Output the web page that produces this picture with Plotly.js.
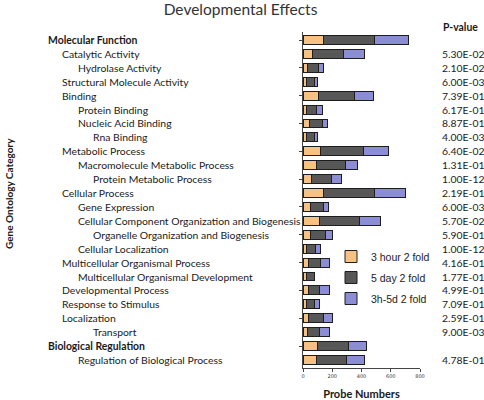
<!DOCTYPE html>
<html>
<head>
<meta charset="utf-8">
<script src="https://cdn.plot.ly/plotly-3.0.1.min.js"></script>
<style>html,body{margin:0;padding:0;background:#fff;}#chart{width:484px;height:400px;}</style>
</head>
<body>
<div id="chart"></div>
<script>
const categories = [
  "Molecular Function","Catalytic Activity","Hydrolase Activity","Structural Molecule Activity",
  "Binding","Protein Binding","Nucleic Acid Binding","Rna Binding","Metabolic Process",
  "Macromolecule Metabolic Process","Protein Metabolic Process","Cellular Process","Gene Expression",
  "Cellular Component Organization and Biogenesis","Organelle Organization and Biogenesis",
  "Cellular Localization","Multicellular Organismal Process","Multicellular Organismal Development",
  "Developmental Process","Response to Stimulus","Localization","Transport","Biological Regulation",
  "Regulation of Biological Process"
];
const levels = [0,1,2,1,1,2,2,3,1,2,3,1,2,2,3,2,1,2,1,1,1,3,0,2];
const hour3 = [137,66,29,23,103,27,41,27,120,89,59,139,50,111,50,23,38,23,36,25,36,32,100,93];
const day5  = [353,210,78,57,246,62,93,53,295,200,139,349,93,274,107,61,82,59,80,52,103,82,208,203];
const both  = [228,143,36,20,134,41,34,20,170,87,66,212,28,146,46,39,58,0,62,34,64,64,127,123];
const pvalues = ["","5.30E-02","2.10E-02","6.00E-03","7.39E-01","6.17E-01","8.87E-01","4.00E-03",
  "6.40E-02","1.31E-01","1.00E-12","2.19E-01","6.00E-03","5.70E-02","5.90E-01","1.00E-12",
  "4.16E-01","1.77E-01","4.99E-01","7.09E-01","2.59E-01","9.00E-03","","4.78E-01"];
const seriesNames = ["3 hour 2 fold","5 day 2 fold","3h-5d 2 fold"];
const xTicks = [0,200,400,600,800];

const L = 303, PW = 117, T = 32, PH = 336;
const px2paper = p => (p - L) / PW;
const py2paper = p => (T + PH - p) / PH;
const lbl = "Lato, 'Liberation Sans', sans-serif";

const colors = ["#F5C284","#575757","#8B8ED4"];
const data = [hour3, day5, both].map((vals, i) => ({
  type: "bar", orientation: "h",
  x: vals, y: categories, name: seriesNames[i],
  legendgroup: "g" + i,
  marker: {color: colors[i], line: {color: "#1e1e1e", width: 1}},
  hoverinfo: "x+y"
}));

const annotations = [];
categories.forEach((c, i) => {
  annotations.push({
    xref: "paper", yref: "y", x: px2paper(45.5 + 15 * levels[i]), y: c,
    xanchor: "left", yanchor: "middle", showarrow: false,
    text: levels[i] === 0 ? "<b>" + c + "</b>" : c,
    font: {family: lbl, size: 10.4, color: "#1a1a1a"}
  });
  if (pvalues[i]) annotations.push({
    xref: "paper", yref: "y", x: px2paper(440), y: c,
    xanchor: "left", yanchor: "middle", showarrow: false,
    text: pvalues[i], font: {family: lbl, size: 10.4, color: "#1a1a1a"}
  });
});
annotations.push({
  xref: "paper", yref: "paper", x: px2paper(460), y: py2paper(27), yanchor: "middle", xanchor: "center",
  showarrow: false, text: "<b>P-value</b>", font: {family: lbl, size: 10.4, color: "#1a1a1a"}
});
annotations.push({
  xref: "paper", yref: "paper", x: px2paper(9), y: py2paper(194), textangle: -90,
  xanchor: "center", yanchor: "middle", showarrow: false,
  text: "<b>Gene Ontology Category</b>", font: {family: lbl, size: 10, color: "#1a1a1a"}
});

const layout = {
  width: 484, height: 400,
  margin: {l: L, r: 484 - L - PW, t: T, b: 400 - T - PH},
  paper_bgcolor: "#fff", plot_bgcolor: "#fff",
  barmode: "stack", bargap: 0.36,
  showlegend: true,
  title: {text: "Developmental Effects", x: 0.497, xanchor: "center", y: 0.99, yanchor: "top",
          font: {family: lbl, size: 15.5, color: "#333"}},
  xaxis: {range: [0, 800], tickvals: xTicks, ticktext: xTicks.map(String),
          showgrid: false, zeroline: false, showline: true, linecolor: "#444", linewidth: 1,
          ticks: "outside", ticklen: 3, tickcolor: "#444",
          tickfont: {family: "DejaVu Sans", size: 5, color: "#333"},
          title: {text: "<b>Probe Numbers</b>", standoff: 12, font: {family: lbl, size: 11, color: "#1a1a1a"}},
          fixedrange: true},
  yaxis: {type: "category", autorange: "reversed", showticklabels: false,
          showgrid: false, zeroline: false, showline: true, linecolor: "#444", linewidth: 1,
          ticks: "outside", ticklen: 3, tickcolor: "#444", fixedrange: true},
  legend: {x: px2paper(331), y: py2paper(242), xanchor: "left", yanchor: "top",
           traceorder: "grouped", tracegroupgap: 2, itemwidth: 30, bgcolor: "rgba(0,0,0,0)",
           font: {family: "Liberation Sans, Arial, sans-serif", size: 10.5, color: "#222"}},
  annotations: annotations
};

Plotly.newPlot("chart", data, layout, {displayModeBar: false, staticPlot: true});
</script>
</body>
</html>
